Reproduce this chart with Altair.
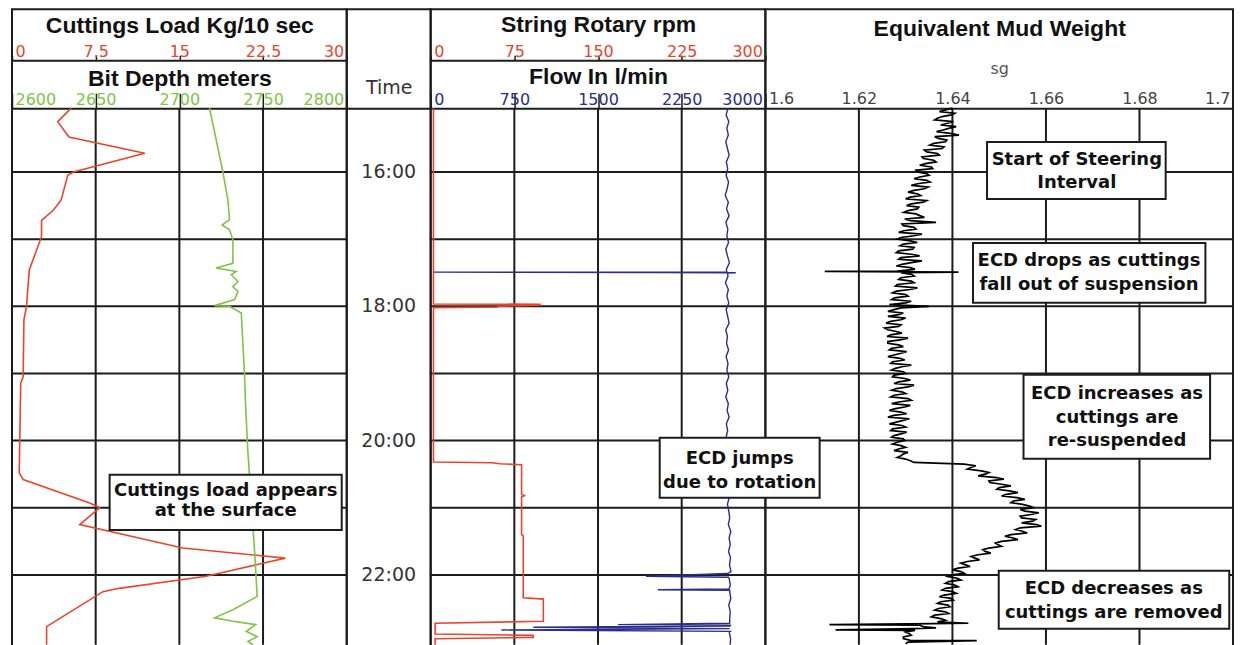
import altair as alt
import pandas as pd

# ------------------------------------------------------------------ data
hours = [16, 17, 18, 19, 20, 21, 22]
time_ticks = [16, 18, 20, 22]
time_labels = ["16:00", "18:00", "20:00", "22:00"]

load_ticks = [0, 7.5, 15, 22.5, 30]
depth_ticks = [2600, 2650, 2700, 2750, 2800]
rpm_ticks = [0, 75, 150, 225, 300]
flow_ticks = [0, 750, 1500, 2250, 3000]
ecd_ticks = [1.6, 1.62, 1.64, 1.66, 1.68, 1.7]

# cuttings load (kg/10 s) vs time (h)
cut_t = [15.05, 15.25, 15.48, 15.72, 16.0, 16.05, 16.42, 16.57, 16.72, 16.96, 17.46,
         18.0, 18.2, 19.05, 19.14, 20.48, 20.58, 20.93, 21.0, 21.25, 21.6, 21.75,
         22.02, 22.2, 22.25, 22.77, 23.04]
cut_v = [5.3, 4.1, 5.1, 11.9, 5.5, 5.0, 4.4, 3.7, 2.65, 2.65, 1.55,
         1.3, 1.07, 1.0, 0.78, 0.65, 1.0, 6.96, 7.86, 6.07, 15.3, 24.5,
         17.4, 9.6, 8.15, 3.1, 3.1]

# bit depth (m)
dep_t = [15.05, 15.52, 16.0, 16.42, 16.71, 16.79, 16.86, 17.01, 17.36, 17.43, 17.48,
         17.53, 17.63, 17.71, 17.78, 17.9, 17.99, 18.0, 18.1, 19.05, 19.44, 20.19,
         20.93, 21.67, 22.32, 22.52, 22.64, 22.69, 22.74, 22.84, 22.92, 22.99, 23.04]
dep_v = [2718, 2722, 2726, 2729, 2730, 2725.5, 2730, 2732, 2732, 2722, 2734,
         2731, 2735, 2732, 2735, 2733, 2721, 2730, 2737, 2739, 2739.5, 2741,
         2743, 2745, 2746.5, 2732, 2721, 2732, 2745.5, 2740, 2746.5, 2741, 2744]

# string rotary rpm
rpm_t = [15.05, 17.965, 17.97, 17.985, 18.0, 18.01, 18.02, 20.32, 20.33, 20.345,
         20.36, 20.8, 20.82, 20.84, 21.4, 21.42, 22.34, 22.36, 22.69, 22.72, 22.88,
         22.9, 22.93, 22.95, 23.04]
rpm_v = [2.5, 2.5, 98, 98, 60, 60, 2.5, 2.5, 55, 62,
         81.5, 81.5, 84, 81.5, 81.5, 83, 83, 101, 101, 4, 4,
         92, 92, 4, 4]

# flow in (l/min), sampled every 0.1 h from 15.05, plus spikes
flow_start, flow_step = 15.05, 0.1
flow_v = [2665, 2648, 2672, 2655, 2668, 2645, 2660, 2675, 2650, 2662,
          2648, 2670, 2657, 2640, 2668, 2652, 2675, 2646, 2663, 2655,
          2670, 2645, 2660, 2678, 2650, 2665, 2642, 2668, 2655, 2672,
          2648, 2662, 2675, 2645, 2660, 2652, 2670, 2648, 2665, 2655,
          2672, 2650, 2663, 2645, 2668, 2657, 2675, 2650, 2662, 2648,
          2670, 2655, 2665, 2645, 2672, 2658, 2668, 2650, 2676, 2660,
          2672, 2680, 2668, 2690, 2675, 2685, 2670, 2688, 2678, 2692,
          2675, 2686, 2680, 2690, 2672, 2685, 2680, 2692, 2676, 2688]
flow_spike_t = [17.49, 17.492, 17.497, 17.50, 17.505, 21.98, 21.99, 22.02, 22.035,
                22.21, 22.22, 22.23, 22.72, 22.74, 22.76, 22.78, 22.80, 22.82, 22.84, 23.04]
flow_spike_v = [2655, 30, 2000, 2735, 2660, 2660, 2480, 1930, 2670,
                2675, 2036, 2680, 2680, 1680, 2680, 920, 2680, 634, 2685, 2684]

# equivalent mud weight (sg): samples every 0.05 h from 15.05 ...
ecd_start, ecd_step = 15.05, 0.05
ecd_v = [1.6400, 1.6372, 1.6398, 1.6368, 1.6402, 1.6375, 1.6392, 1.6366, 1.6414, 1.6370,
         1.6385, 1.6352, 1.6378, 1.6345, 1.6372, 1.6338, 1.6365, 1.6330, 1.6358, 1.6325,
         1.6350, 1.6318, 1.6352, 1.6312, 1.6340, 1.6305, 1.6332, 1.6300, 1.6338, 1.6302,
         1.6325, 1.6296, 1.6330, 1.6298, 1.6365, 1.6295, 1.6322, 1.6285, 1.6318, 1.6282,
         1.6325, 1.6288, 1.6315, 1.6280, 1.6330, 1.6285, 1.6312, 1.6280, 1.6320, 1.6290,
         1.6318, 1.6285, 1.6318, 1.6278, 1.6310, 1.6272, 1.6305, 1.6270, 1.6300, 1.6350,
         1.6275, 1.6295, 1.6262, 1.6290, 1.6258, 1.6285, 1.6262, 1.6292, 1.6260, 1.6288,
         1.6262, 1.6295, 1.6265, 1.6290, 1.6262, 1.6298, 1.6268, 1.6292, 1.6270, 1.6300,
         1.6272, 1.6310, 1.6275, 1.6305, 1.6270, 1.6300, 1.6268, 1.6312, 1.6270, 1.6298,
         1.6265, 1.6302, 1.6262, 1.6295, 1.6265, 1.6300, 1.6268, 1.6290, 1.6270, 1.6298,
         1.6272, 1.6300, 1.6275, 1.6295, 1.6282, 1.6310, 1.6425, 1.6440, 1.6462, 1.6470,
         1.6495, 1.6478, 1.6505, 1.6500, 1.6522, 1.6515, 1.6538, 1.6530, 1.6550, 1.6575,
         1.6555, 1.6568, 1.6548, 1.6572, 1.6580, 1.6545, 1.6550, 1.6525, 1.6530, 1.6505,
         1.6498, 1.6478, 1.6470, 1.6455, 1.6448, 1.6432, 1.6428, 1.6412, 1.6418, 1.6400,
         1.6410, 1.6392, 1.6405, 1.6385, 1.6400, 1.6382, 1.6398, 1.6375, 1.6390, 1.6370,
         1.6385, 1.6362, 1.6375, 1.6368, 1.6330, 1.6318, 1.6300, 1.6312, 1.6295, 1.6305]
# ... the in-between samples, every 0.05 h from 15.075 ...
ecd_mid_start = 15.075
ecd_mid = [1.6385, 1.6405, 1.6378, 1.6362, 1.6390, 1.6408, 1.6380, 1.6395, 1.6362, 1.6388,
           1.6360, 1.6382, 1.6340, 1.6368, 1.6335, 1.6360, 1.6342, 1.6355, 1.6322, 1.6345,
           1.6330, 1.6345, 1.6325, 1.6348, 1.6318, 1.6325, 1.6310, 1.6345, 1.6312, 1.6328,
           1.6305, 1.6322, 1.6340, 1.6310, 1.6292, 1.6318, 1.6296, 1.6335, 1.6290, 1.6310,
           1.6295, 1.6318, 1.6285, 1.6312, 1.6290, 1.6335, 1.6292, 1.6310, 1.6282, 1.6312,
           1.6290, 1.6312, 1.6282, 1.6325, 1.6280, 1.6300, 1.6276, 1.6312, 1.6265, 1.6290,
           1.6262, 1.6285, 1.6300, 1.6268, 1.6290, 1.6255, 1.6280, 1.6268, 1.6305, 1.6262,
           1.6285, 1.6270, 1.6302, 1.6275, 1.6288, 1.6272, 1.6312, 1.6278, 1.6295, 1.6275,
           1.6298, 1.6285, 1.6318, 1.6280, 1.6292, 1.6275, 1.6305, 1.6285, 1.6310, 1.6278,
           1.6290, 1.6275, 1.6308, 1.6280, 1.6292, 1.6272, 1.6302, 1.6275, 1.6295, 1.6282,
           1.6290, 1.6285, 1.6305, 1.6290, 1.6300, 1.6318, 1.6450, 1.6432, 1.6478, 1.6455,
           1.6510, 1.6480, 1.6525, 1.6495, 1.6540, 1.6505, 1.6555, 1.6525, 1.6565, 1.6545,
           1.6585, 1.6545, 1.6578, 1.6548, 1.6590, 1.6535, 1.6560, 1.6512, 1.6540, 1.6492,
           1.6505, 1.6465, 1.6482, 1.6440, 1.6458, 1.6418, 1.6438, 1.6400, 1.6425, 1.6390,
           1.6418, 1.6385, 1.6412, 1.6378, 1.6408, 1.6372, 1.6402, 1.6368, 1.6395, 1.6362,
           1.6392, 1.6355, 1.6385, 1.6360, 1.6340, 1.6320, 1.6308, 1.6295, 1.6310, 1.6300]
# ... and the isolated spikes
ecd_spike_t = [17.48, 17.49, 22.72, 22.74, 22.79, 22.82, 22.98]
ecd_spike_v = [1.6127, 1.6413, 1.6434, 1.6137, 1.6365, 1.6150, 1.6452]

# annotations (track 1: cuttings-load units, track 3: sg units; times in h)
# text positions are the centre of the first line of each note
ann1_text = ["Cuttings load appears\nat the surface"]
ann1_x1, ann1_x2, ann1_t1, ann1_t2 = [8.75], [29.55], [20.51], [21.33]
ann1_xc, ann1_tc = [19.15], [20.751]

ann3_text = ["Start of Steering\nInterval", "ECD drops as cuttings\nfall out of suspension",
             "ECD jumps\ndue to rotation", "ECD increases as\ncuttings are\nre-suspended",
             "ECD decreases as\ncuttings are removed"]
ann3_x1 = [1.6474, 1.6444, 1.5774, 1.6552, 1.6499]
ann3_x2 = [1.6856, 1.6941, 1.6116, 1.6951, 1.6992]
ann3_t1 = [15.554, 17.057, 19.958, 19.021, 21.938]
ann3_t2 = [16.402, 17.949, 20.851, 20.271, 22.801]
ann3_xc = [1.6666, 1.6692, 1.5945, 1.6752, 1.6745]
ann3_tc = [15.815, 17.329, 20.280, 19.313, 22.214]

# ------------------------------------------------------------------ style
RED = "#e8452c"
GREEN = "#7fc545"
BLUE = "#2a2e8c"
GRID = "#1c1c1c"
TXT = "#111111"
TFONT = "Liberation Sans"
LFONT = "DejaVu Sans"

T0, T1 = 15.05, 23.04
Y_TOP, Y_BOT = 99, 636
W1, WT, W2, W3 = 335, 84, 335, 468
H = 642


def xsc(dom):
    return alt.Scale(domain=dom, nice=False, zero=False)


def ysc():
    return alt.Scale(domain=[T0, T1], range=[Y_TOP, Y_BOT], nice=False, zero=False)


def top_axis(values, color, offset, title, title_y, tick_size, label_pad, ticks=True,
             title_size=23, title_weight="bold", title_color=TXT, title_font=TFONT):
    return alt.Axis(orient="top", offset=offset, values=values,
                    labelExpr="'' + datum.value", labelColor=color, labelFont=LFONT,
                    labelFontSize=16, labelFlush=True, labelFlushOffset=-3,
                    labelBaseline="alphabetic", labelPadding=label_pad, labelOverlap=False,
                    ticks=ticks, tickColor=GRID, tickSize=tick_size, tickWidth=1.5,
                    domain=True, domainColor=GRID, domainWidth=2, grid=False,
                    title=title, titleFont=title_font, titleFontSize=title_size,
                    titleFontWeight=title_weight, titleColor=title_color,
                    titleY=title_y, titleBaseline="alphabetic")


def hgrid(dom):
    return alt.Chart(pd.DataFrame({"t": hours})).mark_rule(color=GRID, strokeWidth=2).encode(
        y=alt.Y("t:Q", scale=ysc(), axis=None),
        x=alt.X(datum=dom[0], scale=xsc(dom), axis=None),
        x2=alt.X2(datum=dom[1]),
    )


def vgrid(vals, dom):
    return alt.Chart(pd.DataFrame({"v": vals})).mark_rule(color=GRID, strokeWidth=2).encode(
        x=alt.X("v:Q", scale=xsc(dom), axis=None),
        y=alt.Y(datum=T0, scale=ysc(), axis=None),
        y2=alt.Y2(datum=T1),
    )


def trace(t, v, color, dom, axis, width=1.6):
    df = pd.DataFrame({"t": t, "v": v})
    df = df[df["t"] <= T1]
    return alt.Chart(df).mark_line(color=color, strokeWidth=width).encode(
        x=alt.X("v:Q", scale=xsc(dom), axis=axis),
        y=alt.Y("t:Q", scale=ysc(), axis=None),
        order=alt.Order("t:Q"),
    )


def boxes(x1, x2, t1, t2, dom, axis=None):
    df = pd.DataFrame({"x1": x1, "x2": x2, "t1": t1, "t2": t2})
    return alt.Chart(df).mark_rect(fill="white", stroke=GRID, strokeWidth=2).encode(
        x=alt.X("x1:Q", scale=xsc(dom), axis=axis),
        x2="x2:Q",
        y=alt.Y("t1:Q", scale=ysc(), axis=None),
        y2="t2:Q",
    )


def notes(xc, tc, text, dom, line_height):
    df = pd.DataFrame({"xc": xc, "tc": tc, "txt": text})
    return alt.Chart(df).mark_text(font=LFONT, fontSize=18, fontWeight="bold", color=TXT,
                                   lineBreak="\n", lineHeight=line_height,
                                   align="center", baseline="middle").encode(
        x=alt.X("xc:Q", scale=xsc(dom), axis=None),
        y=alt.Y("tc:Q", scale=ysc(), axis=None),
        text="txt:N",
    )


# ------------------------------------------------------------------ track 1
LOAD_DOM, DEP_DOM = [0, 30], [2600, 2800]
track1 = alt.layer(
    hgrid(LOAD_DOM),
    vgrid(load_ticks[1:-1], LOAD_DOM),
    trace(cut_t, cut_v, RED, LOAD_DOM,
          top_axis(load_ticks, RED, -51, "Cuttings Load Kg/10 sec", -28, 5, -1.5)),
    trace(dep_t, dep_v, GREEN, DEP_DOM,
          top_axis(depth_ticks, GREEN, -99, "Bit Depth meters", -23, 15, -11)),
    boxes(ann1_x1, ann1_x2, ann1_t1, ann1_t2, LOAD_DOM),
    notes(ann1_xc, ann1_tc, ann1_text, LOAD_DOM, 20),
).resolve_scale(x="independent").properties(width=W1, height=H)

# ------------------------------------------------------------------ time column
time_df = pd.DataFrame({"t": time_ticks, "lab": time_labels, "xc": [0.5] * len(time_ticks)})
timecol = alt.Chart(time_df).mark_text(font=LFONT, fontSize=19, color="#333333").encode(
    x=alt.X("xc:Q", scale=xsc([0, 1]),
            axis=alt.Axis(orient="top", offset=-99, domain=True, domainColor=GRID,
                          domainWidth=2, ticks=False, labels=False, grid=False,
                          title="Time", titleFont=LFONT, titleFontSize=19,
                          titleFontWeight="normal", titleColor="#333333",
                          titleY=-15, titleBaseline="alphabetic")),
    y=alt.Y("t:Q", scale=ysc(), axis=None),
    text="lab:N",
).properties(width=WT, height=H)

# ------------------------------------------------------------------ track 2
RPM_DOM, FLOW_DOM = [0, 300], [0, 3000]
flow_t_all = [round(flow_start + flow_step * i, 3) for i in range(len(flow_v))] + flow_spike_t
flow_v_all = flow_v + flow_spike_v
track2 = alt.layer(
    hgrid(RPM_DOM),
    vgrid(rpm_ticks[1:-1], RPM_DOM),
    trace(rpm_t, rpm_v, RED, RPM_DOM,
          top_axis(rpm_ticks, RED, -51, "String Rotary rpm", -29, 5, -1.5)),
    trace(flow_t_all, flow_v_all, BLUE, FLOW_DOM,
          top_axis(flow_ticks, BLUE, -99, "Flow In l/min", -25, 15, -11), width=1.4),
).resolve_scale(x="independent").properties(width=W2, height=H)

# ------------------------------------------------------------------ track 3
ECD_DOM = [1.6, 1.7]
ecd_t_all = ([round(ecd_start + ecd_step * i, 4) for i in range(len(ecd_v))]
             + [round(ecd_mid_start + ecd_step * i, 4) for i in range(len(ecd_mid))]
             + ecd_spike_t)
ecd_v_all = ecd_v + ecd_mid + ecd_spike_v
title_axis = alt.Axis(orient="top", offset=-99, domain=False, ticks=False, labels=False,
                      grid=False, title="Equivalent Mud Weight", titleFont=TFONT,
                      titleFontSize=23, titleFontWeight="bold", titleColor=TXT,
                      titleY=-73, titleBaseline="alphabetic")
track3 = alt.layer(
    hgrid(ECD_DOM),
    vgrid(ecd_ticks[1:-1], ECD_DOM),
    trace(ecd_t_all, ecd_v_all, "#000000", ECD_DOM,
          top_axis(ecd_ticks, "#444444", -99, "sg", -35, 0, 5, ticks=False,
                   title_size=16, title_weight="normal", title_color="#555555",
                   title_font=LFONT), width=1.7),
    boxes(ann3_x1, ann3_x2, ann3_t1, ann3_t2, ECD_DOM, axis=title_axis),
    notes(ann3_xc, ann3_tc, ann3_text, ECD_DOM, 23.5),
).resolve_scale(x="independent").properties(width=W3, height=H)

chart = alt.hconcat(track1, timecol, track2, track3, spacing=0, bounds="flush").properties(
    padding={"left": 2, "top": 0, "right": 0, "bottom": 0}, background="white"
).configure_view(stroke=GRID, strokeWidth=2)

chart.save("out.html", embed_options={"renderer": "svg", "actions": False})
